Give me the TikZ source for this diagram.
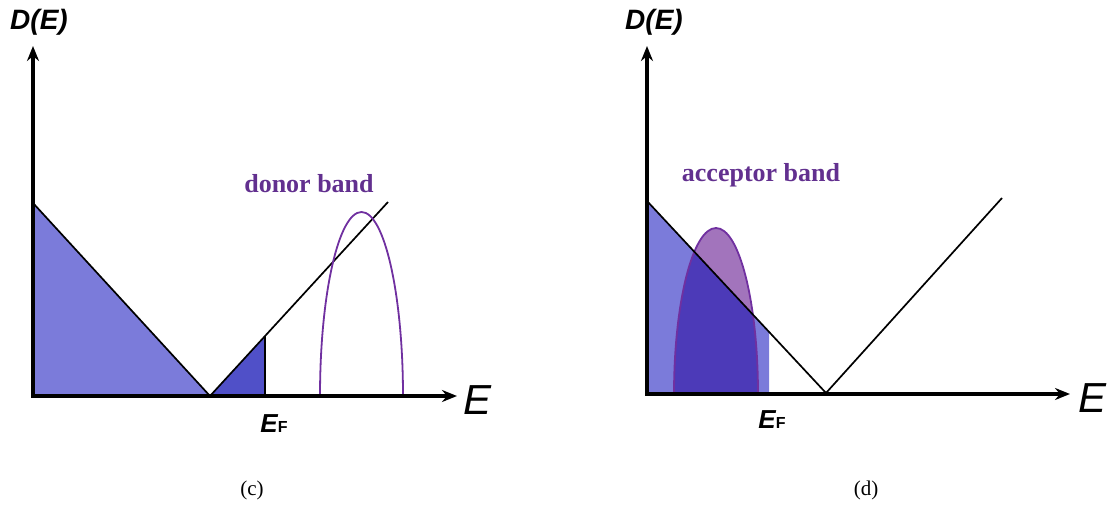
\documentclass[tikz,border=0pt]{standalone}
\usepackage{fontspec}
\setmainfont{Liberation Serif}
\setsansfont{Liberation Sans}
\usetikzlibrary{arrows.meta,calc}
\definecolor{dosfill}{HTML}{7B7BDA}
\definecolor{dosdark}{HTML}{5050C8}
\definecolor{bandline}{HTML}{7030A0}
\definecolor{bandtext}{HTML}{62308F}
\definecolor{bandfill}{HTML}{A274BC}
\definecolor{banddark}{HTML}{4C3AB8}
\begin{document}
\begin{tikzpicture}[x=1pt, y=-1pt,
  axis/.style={line width=3.5pt, line join=miter, {Stealth[length=15pt,width=12pt]}-{Stealth[length=15pt,width=12pt]}},
  dosline/.style={line width=1.7pt},
  band/.style={draw=bandline, line width=1.8pt},
  dlabel/.style={font=\sffamily\bfseries\itshape\fontsize{28}{30}\selectfont},
  elabel/.style={font=\sffamily\itshape\fontsize{42}{44}\selectfont},
  flabel/.style={font=\sffamily},
  blabel/.style={font=\bfseries\fontsize{26}{28}\selectfont, text=bandtext},
  panel/.style={font=\fontsize{21}{24}\selectfont}]
\useasboundingbox (0,0) rectangle (1109,506);
% (c) donor band
\coordinate (o1) at (33,396);
\coordinate (t1) at (33,203);
\coordinate (m1) at (210,396);
\coordinate (r1) at (388,202);
\coordinate (f1) at (265,396);
\coordinate (g1) at ($(m1)!0.309!(r1)$);
\fill[dosfill] (o1) -- (t1) -- (m1) -- cycle;
\fill[dosdark] (m1) -- (f1) -- (g1) -- cycle;
\draw[dosline] (t1) -- (m1) -- (r1);
\draw[dosline] (f1) -- (g1);
\draw[band] (320,396) arc[start angle=180, end angle=360, x radius=41.5, y radius=184];
\draw[axis] (33,46) -- (o1) -- (457,396);
\node[dlabel] (d1) at (39,22) {D(E)};
\node[elabel] (e1) at (478,400) {E};
\node[flabel] (ef1) at (274,424) {{\itshape\bfseries\fontsize{26}{27}\selectfont E}{\bfseries\fontsize{16}{17}\selectfont F}};
\node[blabel] (bd1) at (309,184) {donor band};
\node[panel] (pc) at (252,490) {(c)};
% (d) acceptor band
\coordinate (o2) at (647,394);
\coordinate (t2) at (647,201);
\coordinate (m2) at (826,393);
\coordinate (r2) at (1002,198);
\coordinate (f2) at (769,394);
\coordinate (g2) at ($(t2)!0.6816!(m2)$);
\fill[dosfill] (o2) -- (t2) -- (g2) -- (f2) -- cycle;
\fill[bandfill] (674,394) arc[start angle=180, end angle=360, x radius=42, y radius=166];
\begin{scope}
\clip (o2) -- (t2) -- (m2) -- cycle;
\fill[banddark] (674,394) arc[start angle=180, end angle=360, x radius=42, y radius=166];
\end{scope}
\draw[band] (674,394) arc[start angle=180, end angle=360, x radius=42, y radius=166];
\draw[dosline] (t2) -- (m2) -- (r2);
\draw[axis] (647,46) -- (o2) -- (1070,394);
\node[dlabel] (d2) at (654,22) {D(E)};
\node[elabel] (e2) at (1092,398) {E};
\node[flabel] (ef2) at (772,420) {{\itshape\bfseries\fontsize{26}{27}\selectfont E}{\bfseries\fontsize{16}{17}\selectfont F}};
\node[blabel] (bd2) at (761,175) {acceptor band};
\node[panel] (pd) at (866,490) {(d)};
\end{tikzpicture}
\end{document}
